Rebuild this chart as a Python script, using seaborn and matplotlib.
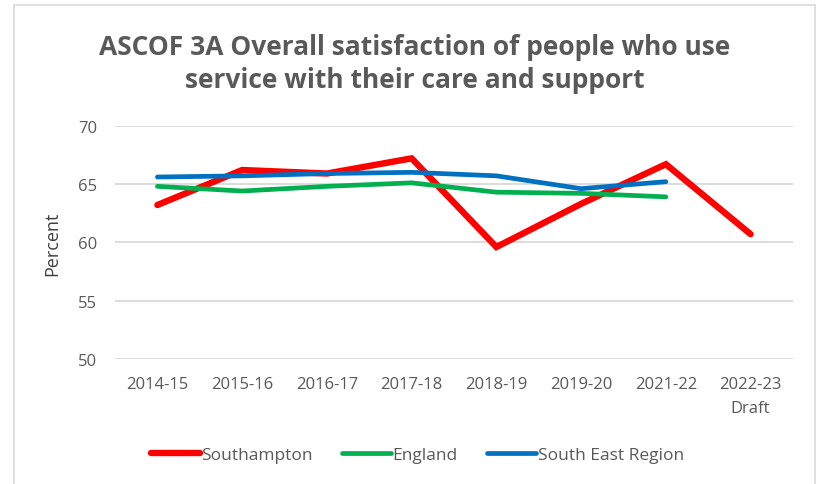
import matplotlib
matplotlib.use("Agg")
import matplotlib.pyplot as plt
import seaborn as sns
import pandas as pd
import numpy as np
from matplotlib.patches import Rectangle

years = ["2014-15", "2015-16", "2016-17", "2017-18", "2018-19", "2019-20", "2021-22", "2022-23\nDraft"]
southampton = [63.2, 66.2, 65.9, 67.2, 59.6, 63.3, 66.7, 60.7]
england = [64.8, 64.4, 64.8, 65.1, 64.3, 64.2, 63.9, np.nan]
south_east = [65.6, 65.7, 65.9, 66.0, 65.7, 64.6, 65.2, np.nan]
series_names = ["Southampton", "England", "South East Region"]
colors = ["#FF0000", "#00B050", "#0070C0"]
widths = [4.6, 3.4, 3.4]

df = pd.DataFrame({
    "Year": years * 3,
    "Value": southampton + england + south_east,
    "Series": [series_names[0]] * len(years) + [series_names[1]] * len(years) + [series_names[2]] * len(years),
})

sns.set_theme(style="white")
plt.rcParams["font.family"] = ["Open Sans", "DejaVu Sans"]

fig = plt.figure(figsize=(8.17, 4.85), dpi=100)
ax = fig.add_axes([0.1408, 0.2577, 0.8298, 0.4811])

for name, col, lw in zip(series_names, colors, widths):
    sub = df[df["Series"] == name]
    sns.lineplot(data=sub, x="Year", y="Value", ax=ax, color=col, linewidth=lw,
                 sort=False, label=name, solid_capstyle="round", solid_joinstyle="miter")

ax.set_xlim(-0.5, len(years) - 0.5)
ax.set_ylim(50, 70)
ax.set_yticks([50, 55, 60, 65, 70])
ax.yaxis.grid(True, color="#D9D9D9", linewidth=1.3)
ax.set_axisbelow(True)
for s in ax.spines.values():
    s.set_visible(False)
ax.tick_params(axis="both", length=0, labelsize=12, labelcolor="#595959")
ax.tick_params(axis="x", pad=12)
ax.tick_params(axis="y", pad=13)
ax.set_xlabel("")
ax.set_ylabel("Percent", fontsize=13, color="#404040", labelpad=12)
ax.set_xticks(range(len(years)))
ax.set_xticklabels(years, linespacing=1.7)

ax.get_legend().remove()
handles, labels = ax.get_legend_handles_labels()
fig.legend(handles, labels, loc="center", bbox_to_anchor=(0.511, 0.06), ncol=3, frameon=False,
           fontsize=12.5, labelcolor="#595959", handlelength=2.8, handletextpad=0.1, columnspacing=1.7)

fig.text(0.508, 0.902, "ASCOF 3A Overall satisfaction of people who use",
         ha="center", va="center", fontsize=19, fontweight="bold", color="#595959")
fig.text(0.508, 0.835, "service with their care and support",
         ha="center", va="center", fontsize=19, fontweight="bold", color="#595959")

fig.patches.append(Rectangle((14 / 817, -0.05), (815 - 14) / 817, 1 - 6 / 485 + 0.05,
                             transform=fig.transFigure, fill=False, edgecolor="#D9D9D9", linewidth=1.2))

fig.savefig("out.png", dpi=100)
